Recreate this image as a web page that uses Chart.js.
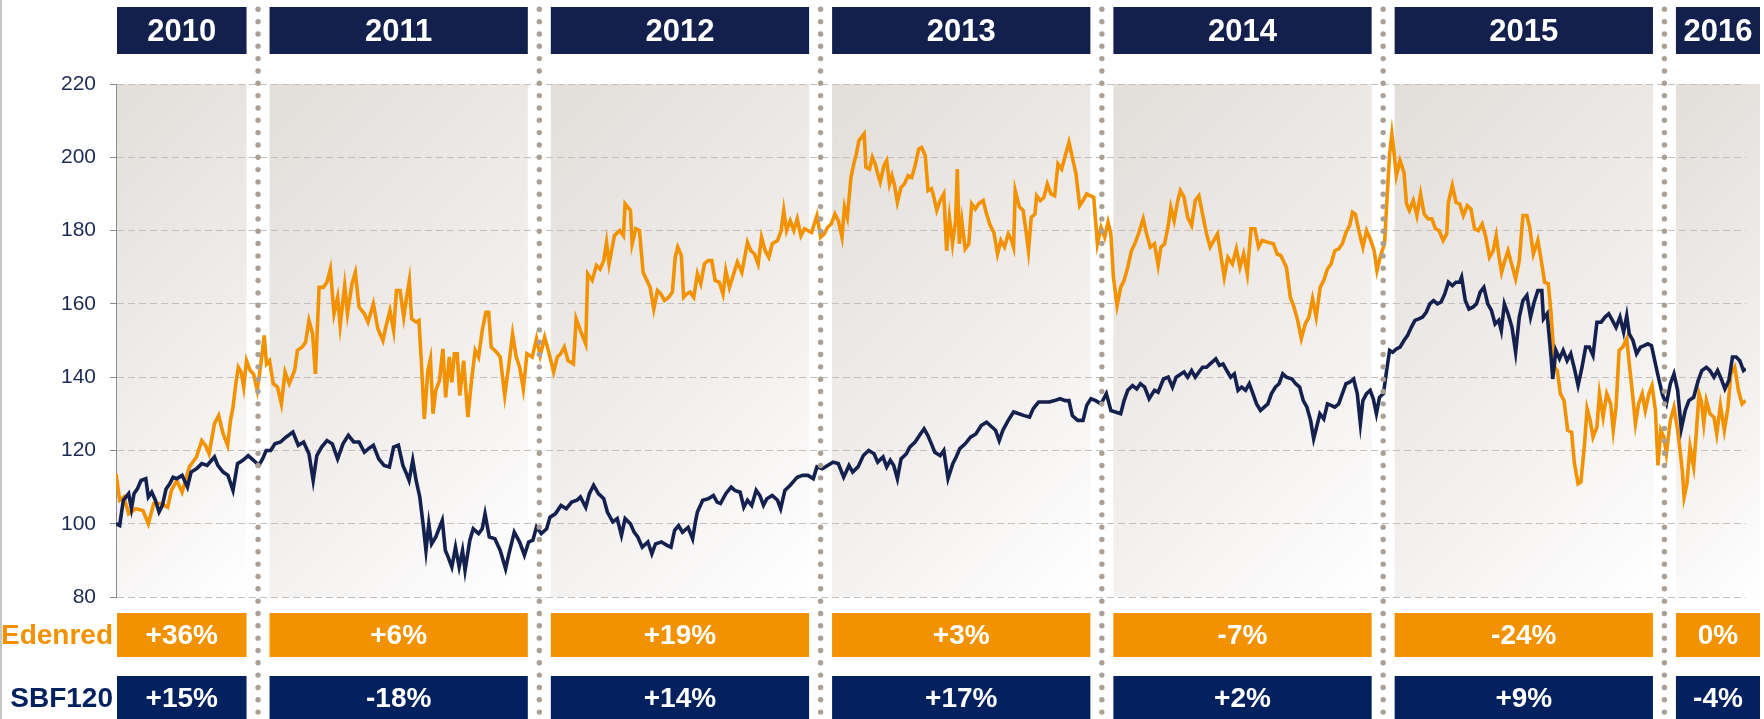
<!DOCTYPE html>
<html>
<head>
<meta charset="utf-8">
<script src="https://cdn.jsdelivr.net/npm/chart.js@4.4.1/dist/chart.umd.min.js"></script>
<style>
  html, body { margin: 0; padding: 0; background: #fff; }
  canvas { display: block; }
</style>
</head>
<body>
<canvas id="perfChart" width="1764" height="719"></canvas>
<script>
// year panels and yearly performance labels
const years = ['2010', '2011', '2012', '2013', '2014', '2015', '2016'];
const edenredPerf = ['+36%', '+6%', '+19%', '+3%', '-7%', '-24%', '0%'];
const sbfPerf = ['+15%', '-18%', '+14%', '+17%', '+2%', '+9%', '-4%'];
const yTicks = [80, 100, 120, 140, 160, 180, 200, 220];

// Edenred, base 100 (x = decimal year)
const edenredDates = [
  2010.495, 2010.508, 2010.523, 2010.540, 2010.565, 2010.591, 2010.610, 2010.629, 2010.654, 2010.679,
  2010.692, 2010.711, 2010.730, 2010.756, 2010.781, 2010.800, 2010.813, 2010.826, 2010.845, 2010.860,
  2010.876, 2010.892, 2010.902, 2010.911, 2010.921, 2010.930, 2010.940, 2010.949, 2010.959, 2010.972,
  2010.984, 2010.997,
  2011.010, 2011.022, 2011.030, 2011.041, 2011.054, 2011.069, 2011.083, 2011.096, 2011.111, 2011.130,
  2011.140, 2011.156, 2011.169, 2011.181, 2011.194, 2011.204, 2011.217, 2011.232, 2011.245, 2011.257,
  2011.270, 2011.283, 2011.292, 2011.308, 2011.318, 2011.334, 2011.346, 2011.359, 2011.378, 2011.391,
  2011.410, 2011.426, 2011.444, 2011.454, 2011.469, 2011.482, 2011.492, 2011.505, 2011.518, 2011.528,
  2011.538, 2011.546, 2011.562, 2011.572, 2011.581, 2011.591, 2011.604, 2011.613, 2011.622, 2011.632,
  2011.645, 2011.657, 2011.667, 2011.680, 2011.689, 2011.698, 2011.708, 2011.717, 2011.731, 2011.746,
  2011.759, 2011.772, 2011.784, 2011.797, 2011.810, 2011.820, 2011.829, 2011.848, 2011.861, 2011.877,
  2011.892, 2011.905, 2011.918, 2011.930, 2011.943, 2011.956, 2011.975, 2011.990,
  2012.003, 2012.019, 2012.032, 2012.051, 2012.064, 2012.076, 2012.089, 2012.102, 2012.121, 2012.131,
  2012.146, 2012.165, 2012.172, 2012.188, 2012.203, 2012.216, 2012.229, 2012.239, 2012.248, 2012.267,
  2012.286, 2012.299, 2012.305, 2012.324, 2012.330, 2012.343, 2012.356, 2012.369, 2012.394, 2012.407,
  2012.420, 2012.432, 2012.445, 2012.460, 2012.473, 2012.483, 2012.492, 2012.505, 2012.513, 2012.524,
  2012.536, 2012.549, 2012.562, 2012.574, 2012.587, 2012.600, 2012.613, 2012.625, 2012.640, 2012.653,
  2012.663, 2012.676, 2012.691, 2012.704, 2012.720, 2012.740, 2012.752, 2012.765, 2012.778, 2012.790,
  2012.803, 2012.816, 2012.828, 2012.847, 2012.860, 2012.869, 2012.879, 2012.892, 2012.905, 2012.917,
  2012.930, 2012.943, 2012.955, 2012.968, 2012.987,
  2013.000, 2013.013, 2013.025, 2013.038, 2013.051, 2013.063, 2013.076, 2013.085, 2013.095, 2013.108,
  2013.118, 2013.127, 2013.136, 2013.146, 2013.155, 2013.161, 2013.174, 2013.184, 2013.194, 2013.203,
  2013.212, 2013.225, 2013.235, 2013.245, 2013.254, 2013.263, 2013.273, 2013.286, 2013.298, 2013.311,
  2013.324, 2013.336, 2013.349, 2013.359, 2013.372, 2013.382, 2013.394, 2013.400, 2013.413, 2013.425,
  2013.438, 2013.448, 2013.458, 2013.469, 2013.480, 2013.486, 2013.493, 2013.502, 2013.514, 2013.527,
  2013.537, 2013.550, 2013.562, 2013.578, 2013.590, 2013.603, 2013.616, 2013.629, 2013.641, 2013.654,
  2013.667, 2013.679, 2013.686, 2013.692, 2013.707, 2013.720, 2013.730, 2013.739, 2013.749, 2013.762,
  2013.768, 2013.781, 2013.794, 2013.806, 2013.819, 2013.832, 2013.844, 2013.857, 2013.870, 2013.883,
  2013.895, 2013.908, 2013.921, 2013.933, 2013.946, 2013.959, 2013.971, 2013.984, 2013.997,
  2014.010, 2014.022, 2014.032, 2014.041, 2014.054, 2014.067, 2014.079, 2014.092, 2014.105, 2014.117,
  2014.130, 2014.147, 2014.159, 2014.172, 2014.187, 2014.200, 2014.210, 2014.223, 2014.236, 2014.245,
  2014.257, 2014.270, 2014.279, 2014.292, 2014.305, 2014.319, 2014.332, 2014.345, 2014.358, 2014.372,
  2014.385, 2014.398, 2014.411, 2014.424, 2014.435, 2014.448, 2014.464, 2014.478, 2014.491, 2014.504,
  2014.517, 2014.530, 2014.544, 2014.557, 2014.570, 2014.590, 2014.610, 2014.623, 2014.636, 2014.656,
  2014.670, 2014.683, 2014.696, 2014.709, 2014.723, 2014.736, 2014.749, 2014.762, 2014.776, 2014.789,
  2014.802, 2014.815, 2014.828, 2014.842, 2014.855, 2014.868, 2014.881, 2014.891, 2014.901, 2014.915,
  2014.928, 2014.941, 2014.954, 2014.968, 2014.978, 2014.991,
  2015.005, 2015.014, 2015.023, 2015.031, 2015.038, 2015.047, 2015.060, 2015.074, 2015.083, 2015.093,
  2015.107, 2015.120, 2015.133, 2015.146, 2015.160, 2015.173, 2015.186, 2015.199, 2015.213, 2015.226,
  2015.232, 2015.246, 2015.259, 2015.272, 2015.285, 2015.299, 2015.312, 2015.325, 2015.338, 2015.352,
  2015.365, 2015.378, 2015.391, 2015.402, 2015.413, 2015.421, 2015.431, 2015.444, 2015.458, 2015.471,
  2015.484, 2015.497, 2015.511, 2015.521, 2015.534, 2015.550, 2015.564, 2015.574, 2015.587, 2015.597,
  2015.610, 2015.619, 2015.630, 2015.643, 2015.656, 2015.670, 2015.680, 2015.693, 2015.703, 2015.716,
  2015.725, 2015.736, 2015.746, 2015.760, 2015.769, 2015.782, 2015.795, 2015.809, 2015.818, 2015.828,
  2015.839, 2015.852, 2015.866, 2015.875, 2015.884, 2015.897, 2015.908, 2015.921, 2015.932, 2015.945,
  2015.956, 2015.968, 2015.977, 2015.987, 2015.998,
  2016.007, 2016.021, 2016.034, 2016.047, 2016.057, 2016.064, 2016.070, 2016.080, 2016.091, 2016.104,
  2016.113, 2016.123, 2016.131, 2016.140, 2016.149, 2016.162, 2016.176, 2016.186, 2016.199, 2016.213,
  2016.226, 2016.236, 2016.250, 2016.263, 2016.276, 2016.289
];
const edenredValues = [
  113.6, 106.4, 107.3, 102.7, 104.1, 103.6, 100.0, 105.5, 105.5, 104.5,
  109.1, 111.8, 108.6, 115.5, 118.2, 122.7, 121.4, 119.1, 127.3, 129.5,
  124.5, 121.4, 128.2, 131.8, 138.2, 142.7, 141.4, 137.3, 144.5, 141.8,
  140.9, 136.4,
  143.6, 151.4, 143.6, 144.5, 138.2, 137.3, 132.7, 141.4, 138.2, 141.8,
  147.3, 148.2, 149.5, 155.5, 151.8, 140.9, 164.5, 164.5, 165.9, 169.5,
  157.3, 161.8, 154.1, 165.0, 157.3, 165.5, 168.6, 159.1, 157.3, 155.0,
  160.0, 153.2, 150.0, 153.6, 158.2, 152.7, 163.6, 163.6, 156.4, 161.8,
  166.4, 155.9, 155.0, 155.5, 143.6, 128.6, 141.8, 145.0, 130.0, 136.4,
  139.1, 147.7, 134.5, 145.5, 138.6, 146.4, 146.4, 135.0, 144.5, 129.1,
  139.1, 147.3, 145.5, 152.7, 157.7, 157.7, 148.2, 146.8, 145.5, 135.0,
  143.6, 151.8, 145.5, 142.7, 136.8, 146.4, 145.5, 150.5,
  145.9, 150.9, 147.3, 141.4, 145.5, 146.4, 148.2, 144.5, 143.6, 155.9,
  152.7, 149.1, 168.2, 166.4, 170.5, 169.5, 171.8, 176.8, 170.9, 178.6,
  180.0, 178.6, 187.3, 185.5, 176.4, 180.5, 180.0, 168.6, 164.5, 158.6,
  163.6, 162.7, 160.9, 161.8, 163.2, 172.7, 175.5, 173.2, 161.8, 162.7,
  163.2, 161.8, 168.2, 165.5, 170.9, 171.8, 171.8, 166.4, 165.9, 162.7,
  169.1, 164.5, 168.2, 171.4, 168.6, 176.8, 174.5, 173.6, 170.9, 178.2,
  174.5, 172.7, 176.4, 177.3, 180.0, 185.5, 180.0, 182.7, 180.0, 183.2,
  178.6, 180.5, 180.0, 179.5, 184.1,
  178.2, 179.1, 180.9, 181.8, 184.5, 182.7, 178.2, 186.4, 183.6, 194.5,
  198.2, 200.9, 204.5, 205.5, 206.4, 197.3, 196.8, 200.0, 198.2, 195.5,
  193.2, 197.7, 199.1, 192.7, 195.0, 192.3, 187.7, 191.8, 192.7, 195.0,
  194.5, 197.7, 202.3, 202.7, 200.5, 190.9, 191.4, 190.0, 185.5, 188.2,
  190.0, 174.5, 183.6, 176.4, 182.7, 196.8, 176.4, 182.7, 175.0, 176.4,
  187.3, 185.9, 187.3, 188.2, 184.5, 181.4, 179.5, 173.6, 177.3, 175.5,
  179.1, 177.3, 175.5, 190.9, 186.4, 185.5, 180.0, 174.5, 183.6, 184.5,
  189.5, 188.2, 189.1, 192.7, 190.0, 189.5, 198.2, 196.8, 200.5, 204.1,
  200.0, 195.5, 186.8, 188.2, 190.0, 189.5, 189.1, 176.4, 180.9,
  178.2, 182.3, 179.1, 167.3, 159.5, 164.5, 166.4, 170.0, 174.5, 176.4,
  179.1, 183.2, 179.1, 175.5, 176.4, 170.5, 175.5, 176.4, 181.4, 186.4,
  182.7, 188.2, 190.9, 189.1, 183.6, 181.4, 188.2, 189.5, 184.5, 179.1,
  175.5, 177.3, 179.1, 172.7, 167.3, 172.7, 170.9, 175.0, 170.0, 173.6,
  168.2, 180.5, 180.5, 175.5, 177.3, 176.8, 176.4, 173.6, 173.2, 170.0,
  161.8, 159.1, 155.5, 150.5, 154.5, 156.4, 161.4, 156.4, 164.5, 166.4,
  169.5, 170.9, 174.5, 175.0, 176.4, 179.5, 181.4, 185.0, 184.5, 179.5,
  175.5, 180.0, 177.7, 174.5, 169.1, 173.2,
  176.4, 189.1, 200.9, 206.4, 201.8, 195.0, 199.1, 195.9, 187.3, 185.5,
  188.2, 184.1, 190.0, 184.5, 183.2, 183.2, 180.5, 180.0, 177.3, 179.1,
  187.7, 192.3, 187.7, 187.3, 184.1, 186.8, 185.9, 180.5, 180.0, 181.8,
  178.2, 172.7, 174.5, 178.6, 172.3, 168.6, 171.4, 174.5, 170.5, 166.8,
  171.8, 184.1, 184.1, 180.9, 173.6, 177.3, 170.9, 165.9, 165.5, 157.3,
  142.7, 141.8, 135.5, 133.6, 125.5, 125.0, 116.4, 110.9, 111.4, 121.8,
  131.4, 128.2, 123.6, 126.4, 135.5, 129.1, 135.5, 132.7, 125.5, 131.8,
  147.3, 148.2, 150.5, 143.6, 137.3, 127.3, 132.7, 135.5, 130.9, 135.5,
  137.7, 130.9, 115.9, 125.5, 123.6,
  119.1, 128.2, 131.8, 125.5, 119.1, 114.1, 107.3, 110.9, 120.9, 115.5,
  124.5, 135.5, 133.6, 127.3, 133.6, 130.0, 129.1, 124.5, 132.3, 125.5,
  131.8, 140.9, 142.7, 136.4, 132.7, 133.6
];

// SBF120, base 100 (x = decimal year)
const sbfDates = [
  2010.495, 2010.508, 2010.521, 2010.540, 2010.550, 2010.559, 2010.571, 2010.584, 2010.601, 2010.610,
  2010.622, 2010.635, 2010.648, 2010.660, 2010.673, 2010.686, 2010.698, 2010.711, 2010.730, 2010.749,
  2010.762, 2010.781, 2010.800, 2010.819, 2010.845, 2010.857, 2010.876, 2010.893, 2010.911, 2010.927,
  2010.946, 2010.965, 2010.984,
  2011.003, 2011.016, 2011.029, 2011.045, 2011.060, 2011.080, 2011.099, 2011.124, 2011.143, 2011.162,
  2011.181, 2011.196, 2011.209, 2011.226, 2011.245, 2011.264, 2011.283, 2011.302, 2011.321, 2011.340,
  2011.359, 2011.378, 2011.393, 2011.410, 2011.429, 2011.448, 2011.467, 2011.482, 2011.499, 2011.515,
  2011.528, 2011.537, 2011.550, 2011.562, 2011.575, 2011.588, 2011.597, 2011.607, 2011.617, 2011.632,
  2011.655, 2011.666, 2011.676, 2011.689, 2011.702, 2011.715, 2011.727, 2011.736, 2011.753, 2011.765,
  2011.784, 2011.797, 2011.807, 2011.822, 2011.842, 2011.861, 2011.880, 2011.892, 2011.911, 2011.930,
  2011.947, 2011.962, 2011.977, 2011.990,
  2012.007, 2012.026, 2012.038, 2012.057, 2012.077, 2012.096, 2012.115, 2012.134, 2012.146, 2012.165,
  2012.178, 2012.193, 2012.210, 2012.229, 2012.242, 2012.261, 2012.277, 2012.292, 2012.305, 2012.324,
  2012.337, 2012.350, 2012.366, 2012.386, 2012.400, 2012.413, 2012.434, 2012.454, 2012.468, 2012.481,
  2012.495, 2012.509, 2012.529, 2012.545, 2012.556, 2012.562, 2012.581, 2012.600, 2012.619, 2012.632,
  2012.644, 2012.663, 2012.682, 2012.695, 2012.714, 2012.727, 2012.740, 2012.755, 2012.771, 2012.784,
  2012.797, 2012.809, 2012.828, 2012.847, 2012.858, 2012.873, 2012.892, 2012.917, 2012.936, 2012.955,
  2012.974, 2012.987,
  2013.006, 2013.025, 2013.044, 2013.063, 2013.082, 2013.101, 2013.114, 2013.133, 2013.152, 2013.171,
  2013.190, 2013.203, 2013.222, 2013.235, 2013.248, 2013.260, 2013.273, 2013.286, 2013.305, 2013.317,
  2013.336, 2013.355, 2013.368, 2013.381, 2013.394, 2013.406, 2013.425, 2013.438, 2013.453, 2013.470,
  2013.482, 2013.495, 2013.514, 2013.533, 2013.552, 2013.571, 2013.590, 2013.609, 2013.622, 2013.635,
  2013.648, 2013.667, 2013.686, 2013.705, 2013.724, 2013.743, 2013.756, 2013.775, 2013.794, 2013.813,
  2013.832, 2013.851, 2013.870, 2013.883, 2013.895, 2013.914, 2013.933, 2013.946, 2013.961, 2013.978,
  2013.997,
  2014.016, 2014.032, 2014.048, 2014.067, 2014.079, 2014.092, 2014.109, 2014.124, 2014.137, 2014.152,
  2014.168, 2014.187, 2014.200, 2014.219, 2014.236, 2014.251, 2014.264, 2014.292, 2014.305, 2014.319,
  2014.332, 2014.345, 2014.358, 2014.372, 2014.385, 2014.405, 2014.418, 2014.431, 2014.444, 2014.458,
  2014.471, 2014.484, 2014.497, 2014.511, 2014.524, 2014.537, 2014.550, 2014.564, 2014.577, 2014.590,
  2014.603, 2014.617, 2014.630, 2014.643, 2014.656, 2014.676, 2014.689, 2014.703, 2014.716, 2014.729,
  2014.742, 2014.753, 2014.762, 2014.775, 2014.789, 2014.802, 2014.815, 2014.828, 2014.842, 2014.855,
  2014.868, 2014.881, 2014.895, 2014.908, 2014.919, 2014.928, 2014.941, 2014.954, 2014.965, 2014.976,
  2014.987,
  2015.001, 2015.014, 2015.023, 2015.034, 2015.047, 2015.060, 2015.074, 2015.087, 2015.100, 2015.113,
  2015.127, 2015.140, 2015.153, 2015.166, 2015.179, 2015.193, 2015.206, 2015.219, 2015.232, 2015.246,
  2015.259, 2015.272, 2015.279, 2015.292, 2015.305, 2015.319, 2015.332, 2015.345, 2015.358, 2015.372,
  2015.385, 2015.398, 2015.411, 2015.420, 2015.431, 2015.444, 2015.458, 2015.471, 2015.484, 2015.497,
  2015.511, 2015.524, 2015.537, 2015.550, 2015.564, 2015.570, 2015.583, 2015.597, 2015.603, 2015.614,
  2015.627, 2015.640, 2015.654, 2015.667, 2015.680, 2015.693, 2015.707, 2015.720, 2015.733, 2015.746,
  2015.760, 2015.775, 2015.789, 2015.802, 2015.815, 2015.828, 2015.842, 2015.855, 2015.866, 2015.875,
  2015.888, 2015.901, 2015.915, 2015.928, 2015.941, 2015.954, 2015.968, 2015.981, 2015.994,
  2016.007, 2016.021, 2016.034, 2016.047, 2016.060, 2016.074, 2016.087, 2016.104, 2016.120, 2016.133,
  2016.149, 2016.162, 2016.176, 2016.189, 2016.202, 2016.215, 2016.229, 2016.242, 2016.255, 2016.268,
  2016.281, 2016.289
];
const sbfValues = [
  100.0, 99.5, 106.4, 108.2, 104.1, 108.2, 109.5, 111.8, 112.3, 107.3,
  108.6, 106.4, 103.2, 105.0, 109.5, 110.9, 112.7, 112.3, 113.2, 110.0,
  114.1, 115.0, 116.4, 115.9, 118.2, 115.9, 114.1, 113.2, 109.1, 116.4,
  117.3, 118.6, 117.3,
  115.9, 117.7, 120.0, 120.0, 121.8, 122.3, 123.6, 125.0, 121.4, 122.3,
  119.1, 111.8, 118.6, 120.9, 122.7, 121.8, 117.7, 121.8, 124.1, 122.3,
  122.3, 119.5, 120.5, 121.4, 117.7, 115.9, 115.5, 120.9, 121.4, 115.9,
  113.6, 111.8, 117.3, 111.8, 107.3, 99.1, 92.7, 100.0, 94.5, 96.4,
  100.9, 92.7, 90.9, 88.2, 93.6, 88.2, 92.7, 87.3, 95.5, 98.6,
  97.3, 98.6, 102.7, 96.4, 95.9, 92.7, 87.7, 91.8, 97.7, 95.0,
  91.4, 95.0, 95.5, 99.1,
  97.3, 98.6, 101.8, 102.7, 105.0, 104.1, 105.9, 106.4, 107.3, 104.5,
  108.2, 110.5, 108.2, 106.8, 103.2, 100.5, 101.4, 96.8, 101.4, 100.0,
  97.7, 96.4, 93.6, 95.0, 91.8, 94.5, 95.0, 94.1, 93.6, 98.2,
  99.5, 97.7, 99.0, 95.9, 101.0, 103.2, 106.4, 106.8, 107.7, 105.9,
  105.5, 108.2, 110.0, 109.1, 108.6, 104.5, 106.4, 105.0, 109.1, 107.7,
  105.0, 106.8, 107.7, 106.4, 104.1, 109.1, 110.5, 112.7, 113.2, 113.2,
  112.3, 115.5,
  115.0, 115.9, 116.8, 116.4, 112.7, 115.9, 114.1, 115.5, 118.6, 120.0,
  119.1, 116.8, 118.2, 115.5, 117.3, 115.9, 112.3, 117.7, 119.1, 120.9,
  122.3, 124.5, 125.9, 124.1, 121.8, 119.5, 118.6, 120.0, 112.3, 116.4,
  118.2, 120.5, 121.8, 123.6, 124.5, 126.8, 127.7, 126.4, 125.5, 122.7,
  125.5, 128.2, 130.5, 130.0, 129.5, 129.1, 131.4, 133.2, 133.2, 133.2,
  133.6, 134.1, 133.6, 133.6, 129.5, 128.2, 128.2, 132.3, 134.1, 133.6,
  132.7,
  135.5, 130.9, 130.5, 130.0, 133.6, 136.4, 137.7, 136.8, 138.2, 137.3,
  134.1, 136.4, 135.9, 139.5, 140.0, 137.3, 140.0, 141.4, 140.0, 141.8,
  140.0, 141.4, 142.7, 142.7, 143.6, 145.0, 143.2, 143.6, 141.8, 140.0,
  140.9, 136.4, 137.3, 136.4, 138.2, 135.5, 132.7, 130.9, 131.8, 132.7,
  135.5, 137.3, 138.2, 140.9, 140.0, 139.5, 138.2, 137.3, 133.6, 131.8,
  128.2, 123.2, 125.9, 130.0, 128.6, 132.7, 132.3, 131.8, 132.7, 135.5,
  138.2, 138.6, 139.5, 135.5, 127.3, 133.6, 135.5, 136.4, 134.1, 130.0,
  134.5,
  135.5, 142.7, 147.3, 146.8, 147.7, 148.2, 150.0, 151.4, 153.6, 155.5,
  155.9, 156.4, 157.7, 160.0, 160.9, 160.0, 160.5, 162.7, 165.9, 165.0,
  165.9, 165.9, 167.3, 160.9, 158.6, 159.1, 160.0, 163.2, 164.5, 160.0,
  158.2, 154.5, 155.5, 152.7, 160.0, 157.3, 153.6, 146.8, 156.4, 160.9,
  162.3, 156.4, 160.5, 163.6, 163.6, 155.9, 157.3, 145.5, 139.5, 147.3,
  145.0, 147.3, 144.5, 146.4, 142.3, 137.7, 142.7, 148.2, 148.2, 145.9,
  155.0, 155.0, 156.4, 157.3, 155.5, 153.6, 156.4, 152.3, 156.8, 151.8,
  150.0, 146.4, 148.2, 148.6, 149.1, 148.6, 143.6, 139.1, 135.0,
  132.7, 138.2, 140.9, 136.4, 125.9, 130.9, 133.6, 134.5, 139.1, 141.8,
  142.7, 141.8, 140.0, 141.8, 139.5, 136.8, 139.1, 145.5, 145.5, 144.5,
  141.8, 142.3
];

const ORANGE = '#f39200';
const NAVY_LINE = '#14214f';
const NAVY_HEAD = '#13204d';
const NAVY_BOX = '#03215f';
const DOT = '#aaa096';
const FONT = '"Liberation Sans", Arial, sans-serif';

function toPoints(dates, values) {
  return dates.map((d, i) => ({ x: d, y: values[i] }));
}

// shaded year panels behind, separators / header / performance boxes on top
const yearPanels = {
  id: 'yearPanels',
  panelBounds(chart, i) {
    const xs = chart.scales.x;
    const gap = 11.5;
    const y0 = parseInt(years[i], 10);
    const left = i === 0 ? chart.chartArea.left + 1 : xs.getPixelForValue(y0) + gap;
    const right = i === years.length - 1 ? chart.width - 4 : xs.getPixelForValue(y0 + 1) - gap;
    return { left, right };
  },
  beforeDraw(chart) {
    const { ctx, chartArea } = chart;
    const top = chartArea.top;
    const h = chartArea.bottom - chartArea.top;
    ctx.save();
    ctx.fillStyle = '#ffffff';
    ctx.fillRect(0, 0, chart.width, chart.height);
    ctx.fillStyle = '#c6c6c6';
    ctx.fillRect(0, 0, 2, chart.height);
    years.forEach((y, i) => {
      const { left, right } = this.panelBounds(chart, i);
      const w = right - left;
      // 45 degree diagonal shading, dark top-left to white bottom-right
      const L = (w + h) / 2;
      const g = ctx.createLinearGradient(left, top, left + L, top + L);
      g.addColorStop(0, '#e2deda');
      g.addColorStop(0.5, '#efecea');
      g.addColorStop(1, '#ffffff');
      ctx.fillStyle = g;
      ctx.fillRect(left, top, w, h);
    });
    ctx.restore();
  },
  afterDatasetsDraw(chart) {
    const { ctx } = chart;
    const xs = chart.scales.x;
    ctx.save();
    // dotted year separators
    ctx.fillStyle = DOT;
    years.slice(1).forEach(y => {
      const x = xs.getPixelForValue(parseInt(y, 10));
      for (let yy = 9.3; yy < chart.height; yy += 12.33) {
        ctx.beginPath();
        ctx.arc(x, yy, 2.7, 0, Math.PI * 2);
        ctx.fill();
      }
    });
    ctx.textAlign = 'center';
    ctx.textBaseline = 'middle';
    years.forEach((y, i) => {
      const { left, right } = this.panelBounds(chart, i);
      const cx = (left + right) / 2;
      ctx.fillStyle = NAVY_HEAD;
      ctx.fillRect(left, 7, right - left, 47);
      ctx.fillStyle = ORANGE;
      ctx.fillRect(left, 613, right - left, 44);
      ctx.fillStyle = NAVY_BOX;
      ctx.fillRect(left, 676, right - left, 50);
      ctx.fillStyle = '#ffffff';
      ctx.font = 'bold 31px ' + FONT;
      ctx.fillText(y, cx, 32);
      ctx.font = 'bold 28px ' + FONT;
      ctx.fillText(edenredPerf[i], cx, 636);
      ctx.fillText(sbfPerf[i], cx, 699);
    });
    ctx.textAlign = 'right';
    ctx.font = 'bold 28px ' + FONT;
    ctx.fillStyle = ORANGE;
    ctx.fillText('Edenred', 113, 636);
    ctx.fillStyle = NAVY_BOX;
    ctx.fillText('SBF120', 113, 699);
    ctx.restore();
  }
};

const ctx = document.getElementById('perfChart').getContext('2d');
const chart = new Chart(ctx, {
  type: 'line',
  data: {
    datasets: [
      {
        label: 'SBF120',
        data: toPoints(sbfDates, sbfValues),
        borderColor: NAVY_LINE,
        borderWidth: 3.6,
        pointRadius: 0,
        tension: 0
      },
      {
        label: 'Edenred',
        data: toPoints(edenredDates, edenredValues),
        borderColor: ORANGE,
        borderWidth: 3.6,
        pointRadius: 0,
        tension: 0
      }
    ]
  },
  options: {
    responsive: false,
    animation: false,
    layout: {
      padding: { top: 84, bottom: 122, left: 0, right: 18 }
    },
    scales: {
      x: {
        type: 'linear',
        min: 2010.495,
        max: 2016.29,
        display: false
      },
      y: {
        min: yTicks[0],
        max: yTicks[yTicks.length - 1],
        afterFit: (scale) => { scale.width = 116; },
        afterBuildTicks: (scale) => { scale.ticks = yTicks.map(v => ({ value: v })); },
        ticks: {
          padding: 14,
          color: '#1b2a55',
          font: { family: FONT, size: 21 }
        },
        grid: {
          color: '#c2bfbc',
          lineWidth: 1,
          tickLength: 6,
          tickColor: '#8a8a8a'
        },
        border: {
          display: true,
          color: '#8a8a8a',
          width: 1,
          dash: [7, 4]
        }
      }
    },
    plugins: {
      legend: { display: false },
      tooltip: { enabled: false }
    }
  },
  plugins: [yearPanels]
});
</script>
</body>
</html>
